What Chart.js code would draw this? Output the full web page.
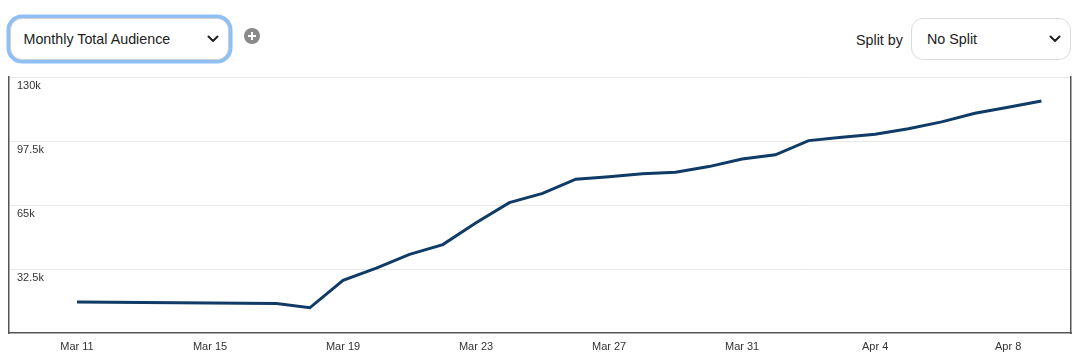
<!DOCTYPE html>
<html>
<head>
<meta charset="utf-8">
<script src="https://cdn.jsdelivr.net/npm/chart.js@4"></script>
<style>
    html, body { margin: 0; padding: 0; background: #fff; }
    body { width: 1083px; height: 364px; position: relative; overflow: hidden;
           font-family: "Helvetica Neue", Helvetica, Arial, "Liberation Sans", sans-serif; color: #222; }
    .select { position: absolute; box-sizing: border-box; background: #fff; border-radius: 12px;
              display: flex; align-items: center; }
    .select svg { position: absolute; }
    #metric { left: 10px; top: 18px; width: 219px; height: 42px; border: 1.5px solid #d0d0d0;
              box-shadow: 0 0 0 3.5px #8ec0f5; padding-left: 12.5px; font-size: 14.3px; }
    #split { left: 911px; top: 18px; width: 160px; height: 42px; border: 1.5px solid #dcdcdc;
             padding-left: 15px; font-size: 14.3px; }
    #addBtn { position: absolute; left: 244px; top: 28px; }
    #splitLabel { position: absolute; left: 856px; top: 32px; font-size: 14.3px; }
    #chartWrap { position: absolute; left: 0; top: 70px; width: 1083px; height: 294px; }
</style>
</head>
<body>
<div class="select" id="metric">Monthly Total Audience
    <svg style="left:196px;top:16px" width="12" height="8" viewBox="0 0 12 8"><polyline points="1.5,1.5 6,6 10.5,1.5" fill="none" stroke="#222" stroke-width="2" stroke-linecap="round" stroke-linejoin="round"/></svg>
</div>
<svg id="addBtn" width="16" height="16" viewBox="0 0 16 16">
    <circle cx="8" cy="8" r="8" fill="#8a8a8a"/>
    <path d="M8 4v8M4 8h8" stroke="#fff" stroke-width="2"/>
</svg>
<div id="splitLabel">Split by</div>
<div class="select" id="split">No Split
    <svg style="left:137px;top:16px" width="12" height="8" viewBox="0 0 12 8"><polyline points="1.5,1.5 6,6 10.5,1.5" fill="none" stroke="#222" stroke-width="2" stroke-linecap="round" stroke-linejoin="round"/></svg>
</div>
<div id="chartWrap"><canvas id="audienceChart"></canvas></div>

<script>
// Daily labels, Mar 11 - Apr 9
const dates = [
    'Mar 11', 'Mar 12', 'Mar 13', 'Mar 14', 'Mar 15', 'Mar 16', 'Mar 17', 'Mar 18', 'Mar 19', 'Mar 20',
    'Mar 21', 'Mar 22', 'Mar 23', 'Mar 24', 'Mar 25', 'Mar 26', 'Mar 27', 'Mar 28', 'Mar 29', 'Mar 30',
    'Mar 31', 'Apr 1', 'Apr 2', 'Apr 3', 'Apr 4', 'Apr 5', 'Apr 6', 'Apr 7', 'Apr 8', 'Apr 9'
];

// Monthly total audience (thousands)
const audience = [
    15.7, 15.6, 15.5, 15.3, 15.2, 15.1, 15.0, 12.8, 26.7, 32.9,
    39.9, 44.9, 56.0, 66.2, 70.9, 78.1, 79.4, 80.9, 81.6, 84.5,
    88.4, 90.5, 97.7, 99.4, 100.9, 103.7, 107.2, 111.6, 114.6, 117.8
];

const yTicks = [0, 32.5, 65, 97.5, 130];
const xTickEvery = 4;

document.addEventListener('DOMContentLoaded', function() {
    const ctx = document.getElementById('audienceChart').getContext('2d');
    const axisColor = '#555';
    const labelFont = { family: '"Helvetica Neue", Helvetica, Arial, "Liberation Sans", sans-serif', size: 11 };

    // keep axes from reserving space so the plot box lands where the original's does
    function noPadding(scale) {
        scale.paddingTop = 0;
        scale.paddingBottom = 0;
        scale.paddingLeft = 0;
        scale.paddingRight = 0;
    }

    new Chart(ctx, {
        type: 'line',
        data: {
            datasets: [{
                label: 'Monthly Total Audience',
                data: audience.map((v, i) => ({ x: i, y: v })),
                borderColor: '#0f3b66',
                borderWidth: 3,
                pointRadius: 0,
                tension: 0,
                fill: false
            }]
        },
        options: {
            responsive: true,
            maintainAspectRatio: false,
            animation: false,
            layout: { padding: { left: 9, right: 12, top: 7, bottom: 11 } },
            plugins: { legend: { display: false }, tooltip: { enabled: false } },
            scales: {
                x: {
                    type: 'linear',
                    min: -2.045,
                    max: 29.89,
                    afterBuildTicks: function(axis) {
                        axis.ticks = dates.map((d, i) => i).filter(i => i % xTickEvery === 0).map(i => ({ value: i }));
                    },
                    afterFit: function(scale) {
                        noPadding(scale);
                        scale.height = 20;
                    },
                    grid: { display: false, drawTicks: false },
                    border: { display: true, color: axisColor, width: 1.5 },
                    ticks: {
                        color: '#333',
                        font: labelFont,
                        padding: 7,
                        maxRotation: 0,
                        autoSkip: false,
                        callback: function(value) { return dates[value]; }
                    }
                },
                y: {
                    min: 0,
                    max: 130,
                    afterBuildTicks: function(axis) {
                        axis.ticks = yTicks.map(v => ({ value: v }));
                    },
                    afterFit: function(scale) {
                        noPadding(scale);
                        scale.width = 0;
                    },
                    grid: {
                        color: function(c) { return c.tick && c.tick.value === 0 ? 'rgba(0,0,0,0)' : '#e8e8e8'; },
                        drawTicks: false
                    },
                    border: { display: true, color: axisColor, width: 1.5 },
                    ticks: {
                        mirror: true,
                        padding: 8,
                        labelOffset: 9,
                        color: '#333',
                        font: labelFont,
                        callback: function(value) { return value === 0 ? '' : value + 'k'; }
                    }
                },
                yRight: {
                    position: 'right',
                    min: 0,
                    max: 1,
                    afterFit: function(scale) {
                        noPadding(scale);
                        scale.width = 0;
                    },
                    grid: { display: false, drawTicks: false },
                    border: { display: true, color: axisColor, width: 1.5 },
                    ticks: { display: false }
                }
            }
        }
    });
});
</script>
</body>
</html>
